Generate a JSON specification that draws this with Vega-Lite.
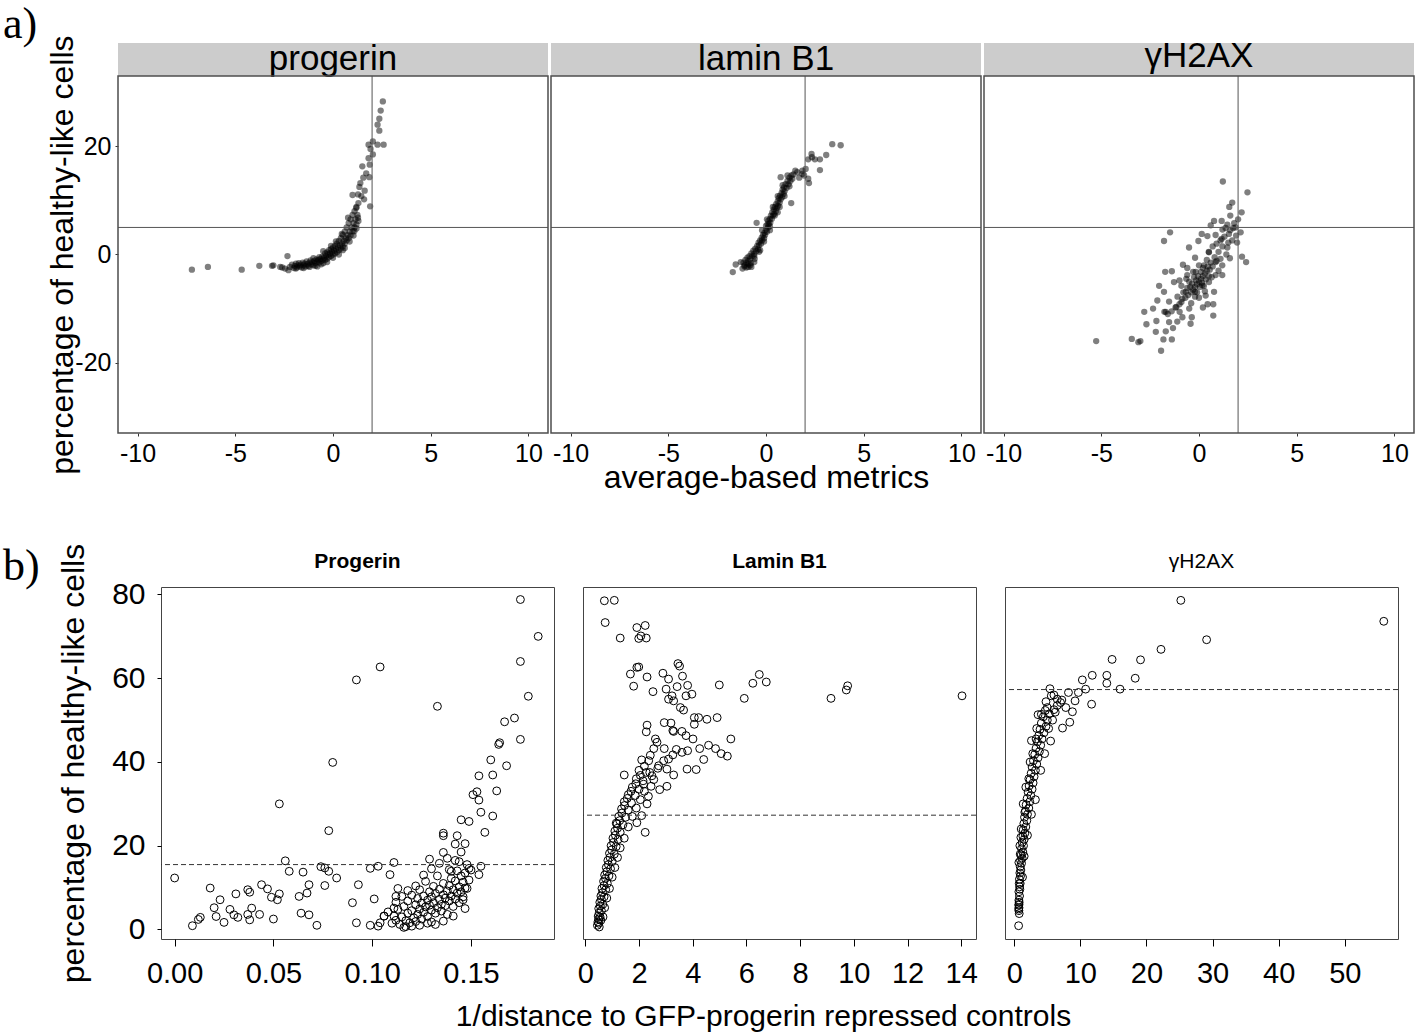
{
  "$schema": "https://vega.github.io/schema/vega-lite/v6.json",
  "background": "white",
  "padding": {"left": 3, "top": 2, "right": 0, "bottom": 0},
  "config": {
    "font": "Liberation Sans",
    "view": {"stroke": null},
    "axis": {"grid": false, "domain": false, "labelColor": "black", "titleColor": "black", "titleFontWeight": "normal", "labelFont": "Liberation Sans", "titleFont": "Liberation Sans", "labelFlush": false, "labelOverlap": false, "labelExpr": "replace(datum.label, '−', '-')"},
    "title": {"font": "Liberation Sans", "color": "black"}
  },
  "datasets": {
    "a1": [{"x":-7.22,"y":-2.8},{"x":-6.4,"y":-2.3},{"x":-4.67,"y":-2.8},{"x":-3.77,"y":-2.1},{"x":-3.12,"y":-2.1},{"x":-3.05,"y":-2.0},{"x":-2.7,"y":-2.3},{"x":-2.45,"y":-2.6},{"x":-2.33,"y":-0.3},{"x":-2.28,"y":-2.9},{"x":-2.6,"y":-2.4},{"x":-2.2,"y":-2.3},{"x":-2.1,"y":-1.9},{"x":-2.0,"y":-2.5},{"x":-1.95,"y":-2.1},{"x":-1.9,"y":-1.7},{"x":-1.85,"y":-2.4},{"x":-1.8,"y":-2.0},{"x":-1.75,"y":-1.6},{"x":-1.7,"y":-2.2},{"x":-1.65,"y":-1.9},{"x":-1.6,"y":-2.4},{"x":-1.55,"y":-1.5},{"x":-1.5,"y":-2.0},{"x":-1.45,"y":-1.7},{"x":-1.4,"y":-2.2},{"x":-1.35,"y":-1.3},{"x":-1.3,"y":-1.8},{"x":-1.25,"y":-2.1},{"x":-1.2,"y":-1.5},{"x":-1.15,"y":-1.1},{"x":-1.1,"y":-1.8},{"x":-1.05,"y":-1.4},{"x":-1.0,"y":-2.0},{"x":-0.95,"y":-1.2},{"x":-0.9,"y":-1.6},{"x":-0.85,"y":-0.9},{"x":-0.8,"y":-1.3},{"x":-0.8,"y":-2.2},{"x":-0.75,"y":-1.0},{"x":-0.7,"y":-0.5},{"x":-0.7,"y":-1.5},{"x":-0.65,"y":-0.8},{"x":-0.6,"y":-1.2},{"x":-0.55,"y":-0.4},{"x":-0.5,"y":-0.9},{"x":-0.5,"y":-1.6},{"x":-0.45,"y":-0.6},{"x":-0.4,"y":0.2},{"x":-0.4,"y":-1.0},{"x":-0.35,"y":-0.3},{"x":-0.3,"y":-0.8},{"x":-0.3,"y":0.4},{"x":-0.25,"y":0.0},{"x":-0.2,"y":-0.5},{"x":-0.2,"y":0.8},{"x":-0.15,"y":0.2},{"x":-0.1,"y":-0.3},{"x":-0.1,"y":1.0},{"x":-0.05,"y":0.5},{"x":0.0,"y":0.0},{"x":0.0,"y":1.3},{"x":0.05,"y":0.7},{"x":0.1,"y":0.2},{"x":0.1,"y":1.6},{"x":0.15,"y":1.0},{"x":0.2,"y":0.4},{"x":0.2,"y":2.0},{"x":0.25,"y":1.3},{"x":0.3,"y":0.8},{"x":0.3,"y":2.5},{"x":0.35,"y":1.7},{"x":0.4,"y":1.1},{"x":0.4,"y":3.0},{"x":0.45,"y":2.0},{"x":0.5,"y":1.5},{"x":0.5,"y":3.6},{"x":0.55,"y":2.5},{"x":0.6,"y":2.0},{"x":0.6,"y":4.2},{"x":0.65,"y":3.0},{"x":0.7,"y":2.6},{"x":0.7,"y":5.0},{"x":0.75,"y":3.6},{"x":0.8,"y":3.0},{"x":0.8,"y":5.8},{"x":0.85,"y":4.2},{"x":0.9,"y":3.5},{"x":0.9,"y":6.5},{"x":0.95,"y":5.0},{"x":1.0,"y":4.3},{"x":1.0,"y":7.3},{"x":1.05,"y":5.8},{"x":1.1,"y":5.0},{"x":1.1,"y":8.0},{"x":1.15,"y":6.5},{"x":1.2,"y":5.5},{"x":1.2,"y":8.8},{"x":1.25,"y":7.3},{"x":1.3,"y":9.5},{"x":1.3,"y":6.2},{"x":0.77,"y":6.8},{"x":1.28,"y":6.8},{"x":1.19,"y":8.6},{"x":1.09,"y":4.3},{"x":1.0,"y":11.0},{"x":1.28,"y":11.1},{"x":1.59,"y":10.2},{"x":1.9,"y":8.9},{"x":1.4,"y":13.2},{"x":1.55,"y":14.2},{"x":1.5,"y":16.3},{"x":1.82,"y":17.8},{"x":1.88,"y":16.6},{"x":1.86,"y":14.3},{"x":1.62,"y":11.8},{"x":2.04,"y":18.5},{"x":1.82,"y":20.3},{"x":2.04,"y":20.9},{"x":2.28,"y":20.3},{"x":2.59,"y":20.3},{"x":2.37,"y":22.9},{"x":2.28,"y":24.0},{"x":2.37,"y":25.1},{"x":2.44,"y":26.6},{"x":2.55,"y":28.3},{"x":1.35,"y":12.5},{"x":1.45,"y":10.8},{"x":1.7,"y":15.0},{"x":1.92,"y":19.5},{"x":-1.9,"y":-2.6},{"x":-1.5,"y":-2.5},{"x":-1.2,"y":-2.3},{"x":-0.9,"y":-2.1},{"x":-0.6,"y":-1.8},{"x":-1.0,"y":-0.7},{"x":-0.3,"y":-1.4},{"x":0.0,"y":-0.6},{"x":0.3,"y":0.0},{"x":0.6,"y":1.2},{"x":0.45,"y":3.8},{"x":0.15,"y":2.4},{"x":-0.1,"y":1.6},{"x":-0.5,"y":0.6},{"x":0.85,"y":2.4},{"x":1.05,"y":3.5},{"x":1.2,"y":4.8},{"x":0.5,"y":0.8}],
    "a2": [{"x":-1.7,"y":-3.25},{"x":-1.55,"y":-1.85},{"x":-1.29,"y":-1.4},{"x":-1.1,"y":-2.2},{"x":-1.0,"y":-2.4},{"x":-0.9,"y":-2.3},{"x":-0.8,"y":-2.0},{"x":-0.75,"y":-2.3},{"x":-0.48,"y":5.86},{"x":-1.2,"y":-2.6},{"x":-1.15,"y":-1.5},{"x":-1.1,"y":-2.0},{"x":-1.05,"y":-1.0},{"x":-1.0,"y":-1.6},{"x":-0.95,"y":-0.6},{"x":-0.9,"y":-1.2},{"x":-0.85,"y":-0.3},{"x":-0.8,"y":-0.8},{"x":-0.78,"y":-1.6},{"x":-0.75,"y":0.2},{"x":-0.7,"y":-0.3},{"x":-0.65,"y":0.7},{"x":-0.6,"y":0.1},{"x":-0.58,"y":-0.8},{"x":-0.55,"y":1.1},{"x":-0.5,"y":0.6},{"x":-0.45,"y":1.6},{"x":-0.4,"y":1.0},{"x":-0.38,"y":2.2},{"x":-0.35,"y":1.7},{"x":-0.3,"y":2.6},{"x":-0.25,"y":2.0},{"x":-0.22,"y":3.1},{"x":-0.2,"y":2.6},{"x":-0.15,"y":3.6},{"x":-0.1,"y":3.0},{"x":-0.08,"y":4.0},{"x":-0.05,"y":3.6},{"x":0.0,"y":4.6},{"x":0.0,"y":5.3},{"x":0.05,"y":4.2},{"x":0.08,"y":5.6},{"x":0.1,"y":5.0},{"x":0.12,"y":6.2},{"x":0.15,"y":5.6},{"x":0.2,"y":6.6},{"x":0.22,"y":5.9},{"x":0.25,"y":7.2},{"x":0.3,"y":6.6},{"x":0.32,"y":7.8},{"x":0.35,"y":7.2},{"x":0.4,"y":8.3},{"x":0.42,"y":7.5},{"x":0.45,"y":8.8},{"x":0.5,"y":8.0},{"x":0.52,"y":9.3},{"x":0.55,"y":8.6},{"x":0.6,"y":9.8},{"x":0.62,"y":9.0},{"x":0.65,"y":10.4},{"x":0.7,"y":9.6},{"x":0.72,"y":10.9},{"x":0.75,"y":10.2},{"x":0.8,"y":11.4},{"x":0.82,"y":10.6},{"x":0.85,"y":12.0},{"x":0.9,"y":11.2},{"x":0.92,"y":12.4},{"x":0.95,"y":11.7},{"x":1.0,"y":13.0},{"x":1.05,"y":12.3},{"x":1.1,"y":13.6},{"x":1.15,"y":13.0},{"x":1.2,"y":14.2},{"x":1.25,"y":13.6},{"x":1.3,"y":14.6},{"x":1.35,"y":14.0},{"x":1.4,"y":14.8},{"x":0.75,"y":14.3},{"x":-0.6,"y":-1.4},{"x":-0.3,"y":0.8},{"x":0.2,"y":4.5},{"x":0.6,"y":7.8},{"x":1.29,"y":9.5},{"x":2.16,"y":17.6},{"x":2.33,"y":18.6},{"x":2.5,"y":17.6},{"x":2.76,"y":17.6},{"x":3.08,"y":18.4},{"x":3.39,"y":20.4},{"x":3.82,"y":20.2},{"x":2.76,"y":15.6},{"x":2.16,"y":14.0},{"x":1.86,"y":14.9},{"x":2.03,"y":15.8},{"x":1.86,"y":15.5},{"x":1.6,"y":15.2},{"x":2.35,"y":18.0},{"x":1.95,"y":14.6},{"x":2.2,"y":13.2},{"x":1.5,"y":15.5},{"x":1.7,"y":14.2},{"x":-0.9,"y":-1.8},{"x":-0.6,"y":-0.3},{"x":-0.35,"y":0.5},{"x":-0.1,"y":2.4},{"x":0.2,"y":5.2},{"x":0.45,"y":7.2},{"x":0.7,"y":8.8},{"x":0.95,"y":10.8},{"x":1.2,"y":12.6},{"x":-0.2,"y":4.5},{"x":0.05,"y":6.5},{"x":0.35,"y":8.8},{"x":0.6,"y":10.8},{"x":0.85,"y":12.8},{"x":1.1,"y":14.6}],
    "a3": [{"x":-5.26,"y":-16.0},{"x":-3.44,"y":-15.6},{"x":-3.1,"y":-16.2},{"x":-3.0,"y":-16.0},{"x":-1.94,"y":-17.8},{"x":1.22,"y":13.5},{"x":2.48,"y":11.5},{"x":1.7,"y":9.6},{"x":1.55,"y":8.8},{"x":2.18,"y":7.8},{"x":1.87,"y":5.0},{"x":2.13,"y":4.1},{"x":2.2,"y":-0.4},{"x":2.41,"y":-1.4},{"x":-1.48,"y":4.1},{"x":-1.79,"y":2.5},{"x":0.77,"y":6.2},{"x":1.16,"y":6.2},{"x":-2.8,"y":-10.6},{"x":-2.35,"y":-10.0},{"x":-2.69,"y":-12.9},{"x":-2.18,"y":-12.3},{"x":-1.77,"y":-10.6},{"x":0.73,"y":-11.3},{"x":0.73,"y":-9.2},{"x":0.44,"y":-9.2},{"x":-2.21,"y":-14.3},{"x":-1.82,"y":-15.7},{"x":-1.7,"y":-14.2},{"x":-1.33,"y":-13.6},{"x":-1.39,"y":-15.7},{"x":-1.53,"y":-12.5},{"x":-1.11,"y":-12.4},{"x":-0.99,"y":-10.6},{"x":-0.43,"y":-12.8},{"x":-0.37,"y":-11.6},{"x":-0.85,"y":-11.6},{"x":-2.04,"y":-5.8},{"x":-1.73,"y":-3.2},{"x":-1.39,"y":-3.1},{"x":-1.28,"y":-5.1},{"x":-1.79,"y":-6.9},{"x":-1.53,"y":-8.7},{"x":-2.13,"y":-8.5},{"x":-1.7,"y":-10.6},{"x":-1.16,"y":-9.7},{"x":-0.82,"y":-1.9},{"x":-0.51,"y":1.3},{"x":-0.03,"y":2.5},{"x":0.14,"y":3.8},{"x":0.43,"y":3.4},{"x":0.6,"y":5.4},{"x":0.85,"y":3.6},{"x":1.16,"y":2.9},{"x":1.36,"y":4.9},{"x":1.53,"y":3.8},{"x":1.7,"y":2.6},{"x":1.45,"y":1.3},{"x":1.58,"y":-0.7},{"x":0.85,"y":-1.4},{"x":1.19,"y":-2.0},{"x":0.51,"y":0.4},{"x":0.26,"y":-2.0},{"x":-0.17,"y":-3.2},{"x":-0.6,"y":-3.8},{"x":0.17,"y":-5.7},{"x":0.51,"y":-5.1},{"x":0.85,"y":-3.8},{"x":-0.2,"y":-6.9},{"x":-0.68,"y":-6.9},{"x":-0.85,"y":-8.2},{"x":0.34,"y":-7.6},{"x":0.77,"y":-6.9},{"x":1.19,"y":-3.8},{"x":0.0,"y":-5.0},{"x":0.1,"y":-4.5},{"x":-0.1,"y":-5.5},{"x":0.2,"y":-4.0},{"x":-0.2,"y":-6.0},{"x":0.3,"y":-3.5},{"x":-0.3,"y":-6.5},{"x":0.05,"y":-6.0},{"x":-0.05,"y":-4.0},{"x":0.15,"y":-5.2},{"x":-0.15,"y":-4.8},{"x":0.25,"y":-5.8},{"x":-0.25,"y":-4.2},{"x":0.35,"y":-4.6},{"x":-0.35,"y":-5.4},{"x":0.4,"y":-3.0},{"x":-0.4,"y":-7.0},{"x":0.45,"y":-2.2},{"x":-0.45,"y":-6.0},{"x":0.5,"y":-4.0},{"x":-0.5,"y":-5.0},{"x":0.55,"y":-2.8},{"x":-0.55,"y":-7.5},{"x":0.6,"y":-1.5},{"x":-0.6,"y":-6.2},{"x":0.2,"y":-2.5},{"x":-0.2,"y":-7.8},{"x":0.1,"y":-3.2},{"x":-0.1,"y":-7.0},{"x":0.3,"y":-6.8},{"x":-0.3,"y":-3.2},{"x":0.7,"y":-2.2},{"x":-0.7,"y":-8.0},{"x":0.8,"y":-0.5},{"x":-0.8,"y":-7.0},{"x":0.65,"y":-4.2},{"x":-0.65,"y":-4.5},{"x":0.9,"y":-1.2},{"x":-0.9,"y":-8.8},{"x":1.0,"y":0.5},{"x":-1.0,"y":-9.2},{"x":1.1,"y":-0.8},{"x":-1.1,"y":-7.8},{"x":1.2,"y":1.5},{"x":-1.2,"y":-9.8},{"x":0.9,"y":2.0},{"x":-0.9,"y":-5.8},{"x":0.4,"y":-1.0},{"x":-0.4,"y":-9.0},{"x":0.0,"y":-2.0},{"x":0.0,"y":-8.0},{"x":0.5,"y":0.5},{"x":-0.5,"y":-10.0},{"x":1.3,"y":3.3},{"x":1.0,"y":-3.0},{"x":-1.4,"y":-10.5},{"x":1.4,"y":0.0},{"x":1.5,"y":2.2},{"x":1.6,"y":4.5},{"x":1.1,"y":2.6},{"x":-1.6,"y":-11.0},{"x":-0.2,"y":-0.6},{"x":0.2,"y":-9.8},{"x":-1.0,"y":-4.8},{"x":1.8,"y":5.8},{"x":1.6,"y":7.2},{"x":0.7,"y":1.5},{"x":-0.6,"y":-2.5},{"x":1.45,"y":5.5},{"x":1.9,"y":3.5},{"x":2.0,"y":6.5},{"x":1.75,"y":4.9},{"x":1.95,"y":2.2},{"x":1.2,"y":4.6}],
    "b1": [{"x":0.0,"y":12.3},{"x":0.009,"y":0.9},{"x":0.012,"y":2.4},{"x":0.013,"y":2.9},{"x":0.018,"y":9.9},{"x":0.02,"y":5.2},{"x":0.021,"y":3.1},{"x":0.023,"y":7.1},{"x":0.025,"y":1.7},{"x":0.028,"y":4.8},{"x":0.03,"y":3.5},{"x":0.031,"y":8.5},{"x":0.032,"y":2.9},{"x":0.037,"y":9.5},{"x":0.038,"y":8.9},{"x":0.039,"y":5.1},{"x":0.038,"y":2.3},{"x":0.037,"y":3.6},{"x":0.043,"y":3.6},{"x":0.044,"y":10.7},{"x":0.047,"y":9.7},{"x":0.049,"y":7.7},{"x":0.05,"y":2.5},{"x":0.053,"y":30.0},{"x":0.053,"y":8.5},{"x":0.052,"y":7.1},{"x":0.056,"y":16.4},{"x":0.058,"y":13.9},{"x":0.063,"y":7.9},{"x":0.065,"y":13.7},{"x":0.064,"y":3.9},{"x":0.067,"y":8.7},{"x":0.068,"y":10.7},{"x":0.068,"y":3.5},{"x":0.072,"y":1.0},{"x":0.074,"y":15.0},{"x":0.076,"y":14.7},{"x":0.076,"y":10.5},{"x":0.078,"y":13.9},{"x":0.078,"y":23.6},{"x":0.08,"y":39.9},{"x":0.082,"y":12.3},{"x":0.09,"y":6.4},{"x":0.092,"y":1.6},{"x":0.092,"y":59.6},{"x":0.093,"y":10.7},{"x":0.099,"y":14.6},{"x":0.099,"y":1.0},{"x":0.101,"y":7.3},{"x":0.103,"y":0.8},{"x":0.103,"y":15.1},{"x":0.104,"y":62.7},{"x":0.106,"y":3.2},{"x":0.109,"y":13.1},{"x":0.111,"y":16.0},{"x":0.112,"y":7.9},{"x":0.113,"y":9.8},{"x":0.111,"y":5.1},{"x":0.133,"y":53.3},{"x":0.136,"y":23.0},{"x":0.136,"y":22.4},{"x":0.136,"y":18.4},{"x":0.14,"y":13.9},{"x":0.142,"y":20.4},{"x":0.143,"y":22.4},{"x":0.145,"y":26.2},{"x":0.144,"y":16.2},{"x":0.147,"y":20.5},{"x":0.149,"y":25.8},{"x":0.146,"y":7.1},{"x":0.147,"y":9.9},{"x":0.149,"y":14.6},{"x":0.151,"y":32.2},{"x":0.153,"y":32.9},{"x":0.154,"y":36.7},{"x":0.154,"y":30.9},{"x":0.155,"y":28.0},{"x":0.155,"y":15.1},{"x":0.154,"y":13.1},{"x":0.157,"y":23.2},{"x":0.16,"y":40.5},{"x":0.161,"y":36.9},{"x":0.163,"y":33.1},{"x":0.161,"y":27.1},{"x":0.164,"y":44.2},{"x":0.1645,"y":44.6},{"x":0.167,"y":49.6},{"x":0.168,"y":39.1},{"x":0.172,"y":50.5},{"x":0.175,"y":45.4},{"x":0.175,"y":64.0},{"x":0.175,"y":78.8},{"x":0.179,"y":55.7},{"x":0.184,"y":70.0},{"x":0.11,"y":1.5},{"x":0.111,"y":3.2},{"x":0.112,"y":2.2},{"x":0.113,"y":4.8},{"x":0.114,"y":1.2},{"x":0.115,"y":3.0},{"x":0.116,"y":5.5},{"x":0.117,"y":2.1},{"x":0.118,"y":6.8},{"x":0.118,"y":3.9},{"x":0.119,"y":1.6},{"x":0.12,"y":4.5},{"x":0.12,"y":8.2},{"x":0.121,"y":2.8},{"x":0.122,"y":5.9},{"x":0.122,"y":1.9},{"x":0.123,"y":7.4},{"x":0.123,"y":3.6},{"x":0.124,"y":4.9},{"x":0.124,"y":9.5},{"x":0.125,"y":2.5},{"x":0.125,"y":6.3},{"x":0.126,"y":8.0},{"x":0.126,"y":4.1},{"x":0.127,"y":5.4},{"x":0.127,"y":11.5},{"x":0.128,"y":3.1},{"x":0.128,"y":7.0},{"x":0.129,"y":9.0},{"x":0.129,"y":5.8},{"x":0.13,"y":1.8},{"x":0.13,"y":4.6},{"x":0.13,"y":7.8},{"x":0.131,"y":10.3},{"x":0.131,"y":6.4},{"x":0.132,"y":3.9},{"x":0.132,"y":8.6},{"x":0.133,"y":5.2},{"x":0.133,"y":12.8},{"x":0.134,"y":7.2},{"x":0.134,"y":9.6},{"x":0.135,"y":4.4},{"x":0.135,"y":6.0},{"x":0.136,"y":8.3},{"x":0.136,"y":11.0},{"x":0.137,"y":5.7},{"x":0.137,"y":7.5},{"x":0.138,"y":9.2},{"x":0.138,"y":3.6},{"x":0.139,"y":6.8},{"x":0.139,"y":10.5},{"x":0.14,"y":8.0},{"x":0.14,"y":12.2},{"x":0.141,"y":5.5},{"x":0.141,"y":9.5},{"x":0.142,"y":7.3},{"x":0.142,"y":11.6},{"x":0.143,"y":8.7},{"x":0.143,"y":14.0},{"x":0.144,"y":6.4},{"x":0.144,"y":10.2},{"x":0.145,"y":9.0},{"x":0.145,"y":12.8},{"x":0.146,"y":7.8},{"x":0.146,"y":11.3},{"x":0.147,"y":13.5},{"x":0.148,"y":9.8},{"x":0.148,"y":15.5},{"x":0.149,"y":11.8},{"x":0.15,"y":14.2},{"x":0.147,"y":5.0},{"x":0.141,"y":3.2},{"x":0.136,"y":2.0},{"x":0.132,"y":1.2},{"x":0.128,"y":1.5},{"x":0.124,"y":1.0},{"x":0.12,"y":0.8},{"x":0.117,"y":0.7},{"x":0.126,"y":13.0},{"x":0.13,"y":14.5},{"x":0.134,"y":15.8},{"x":0.138,"y":17.0},{"x":0.129,"y":16.8},{"x":0.142,"y":16.5},{"x":0.145,"y":18.5},{"x":0.139,"y":14.3},{"x":0.122,"y":10.4},{"x":0.118,"y":9.3},{"x":0.115,"y":7.9},{"x":0.112,"y":6.5},{"x":0.108,"y":4.2},{"x":0.106,"y":3.2},{"x":0.104,"y":1.6},{"x":0.116,"y":0.5}],
    "b2": [{"x":0.71,"y":78.5},{"x":1.08,"y":78.6},{"x":0.74,"y":73.3},{"x":1.3,"y":69.6},{"x":1.92,"y":72.1},{"x":2.23,"y":72.6},{"x":1.99,"y":69.5},{"x":2.27,"y":69.6},{"x":2.07,"y":70.1},{"x":1.99,"y":62.7},{"x":1.92,"y":62.6},{"x":1.68,"y":61.0},{"x":1.8,"y":58.1},{"x":2.3,"y":60.3},{"x":2.52,"y":56.8},{"x":2.89,"y":61.2},{"x":3.1,"y":59.8},{"x":3.45,"y":63.5},{"x":3.51,"y":62.9},{"x":3.62,"y":60.5},{"x":3.81,"y":58.3},{"x":3.97,"y":56.2},{"x":3.75,"y":55.8},{"x":3.42,"y":58.0},{"x":3.23,"y":55.8},{"x":3.1,"y":55.0},{"x":3.29,"y":54.6},{"x":3.01,"y":57.4},{"x":3.54,"y":53.0},{"x":3.66,"y":52.4},{"x":4.99,"y":58.4},{"x":5.92,"y":55.2},{"x":6.24,"y":58.8},{"x":6.48,"y":60.9},{"x":6.74,"y":59.1},{"x":9.15,"y":55.2},{"x":9.72,"y":57.2},{"x":9.77,"y":58.2},{"x":14.03,"y":55.8},{"x":2.3,"y":48.8},{"x":2.27,"y":47.2},{"x":2.94,"y":49.4},{"x":3.19,"y":49.3},{"x":3.26,"y":47.5},{"x":2.61,"y":45.5},{"x":2.67,"y":44.7},{"x":2.94,"y":43.2},{"x":3.29,"y":47.3},{"x":3.6,"y":47.3},{"x":3.75,"y":46.3},{"x":4.06,"y":50.6},{"x":4.22,"y":50.6},{"x":4.53,"y":50.2},{"x":4.91,"y":50.6},{"x":4.06,"y":49.0},{"x":4.01,"y":45.5},{"x":5.42,"y":45.5},{"x":4.26,"y":43.2},{"x":4.59,"y":44.0},{"x":4.85,"y":43.2},{"x":5.06,"y":42.0},{"x":5.29,"y":41.4},{"x":4.41,"y":40.6},{"x":3.81,"y":42.7},{"x":3.6,"y":42.3},{"x":3.39,"y":43.0},{"x":3.26,"y":41.7},{"x":3.1,"y":40.7},{"x":2.92,"y":40.3},{"x":2.55,"y":43.2},{"x":2.42,"y":41.6},{"x":2.36,"y":40.3},{"x":2.73,"y":39.1},{"x":3.04,"y":38.3},{"x":3.29,"y":36.9},{"x":3.04,"y":34.2},{"x":2.77,"y":33.4},{"x":3.79,"y":38.3},{"x":4.13,"y":38.2},{"x":2.48,"y":36.7},{"x":2.27,"y":37.5},{"x":1.45,"y":36.9},{"x":2.17,"y":34.7},{"x":0.45,"y":1.0},{"x":0.47,"y":1.8},{"x":0.5,"y":2.5},{"x":0.48,"y":3.2},{"x":0.52,"y":4.0},{"x":0.55,"y":3.0},{"x":0.5,"y":5.0},{"x":0.56,"y":5.6},{"x":0.6,"y":4.5},{"x":0.54,"y":6.5},{"x":0.6,"y":7.2},{"x":0.65,"y":6.0},{"x":0.58,"y":8.0},{"x":0.64,"y":8.8},{"x":0.7,"y":7.8},{"x":0.62,"y":9.8},{"x":0.7,"y":10.5},{"x":0.76,"y":9.5},{"x":0.68,"y":11.5},{"x":0.75,"y":12.2},{"x":0.82,"y":11.0},{"x":0.72,"y":13.0},{"x":0.8,"y":13.8},{"x":0.88,"y":12.8},{"x":0.78,"y":14.8},{"x":0.86,"y":15.5},{"x":0.94,"y":14.5},{"x":0.84,"y":16.5},{"x":0.92,"y":17.2},{"x":1.0,"y":16.2},{"x":0.9,"y":18.2},{"x":0.98,"y":19.0},{"x":1.08,"y":18.0},{"x":0.96,"y":20.0},{"x":1.05,"y":20.8},{"x":1.15,"y":19.8},{"x":1.03,"y":21.8},{"x":1.12,"y":22.5},{"x":1.22,"y":21.5},{"x":1.1,"y":23.5},{"x":1.2,"y":24.2},{"x":1.3,"y":23.2},{"x":1.18,"y":25.2},{"x":1.28,"y":26.0},{"x":1.4,"y":25.0},{"x":1.25,"y":27.0},{"x":1.36,"y":27.8},{"x":1.5,"y":26.8},{"x":1.35,"y":28.8},{"x":1.46,"y":29.6},{"x":1.6,"y":28.5},{"x":1.45,"y":30.5},{"x":1.56,"y":31.3},{"x":1.72,"y":30.2},{"x":1.6,"y":32.2},{"x":1.7,"y":33.0},{"x":1.86,"y":32.0},{"x":1.75,"y":34.0},{"x":1.88,"y":34.8},{"x":2.0,"y":33.5},{"x":1.9,"y":36.0},{"x":2.05,"y":36.8},{"x":2.15,"y":35.5},{"x":2.0,"y":38.0},{"x":2.2,"y":39.0},{"x":2.1,"y":40.5},{"x":0.66,"y":3.0},{"x":0.72,"y":5.2},{"x":0.8,"y":7.5},{"x":0.9,"y":9.8},{"x":1.0,"y":12.5},{"x":1.1,"y":14.8},{"x":1.2,"y":17.2},{"x":1.3,"y":19.5},{"x":1.45,"y":21.8},{"x":1.6,"y":24.5},{"x":1.75,"y":27.0},{"x":1.9,"y":29.0},{"x":2.05,"y":31.0},{"x":2.2,"y":33.0},{"x":2.3,"y":30.0},{"x":2.1,"y":27.2},{"x":1.92,"y":25.5},{"x":1.15,"y":25.4},{"x":2.23,"y":23.2},{"x":0.52,"y":0.6},{"x":0.5,"y":1.5},{"x":0.58,"y":2.2},{"x":2.4,"y":37.5},{"x":2.55,"y":35.8},{"x":2.7,"y":38.5},{"x":2.45,"y":34.2},{"x":2.35,"y":31.8}],
    "b3": [{"x":25.2,"y":78.6},{"x":55.9,"y":73.6},{"x":29.1,"y":69.2},{"x":22.2,"y":66.9},{"x":14.8,"y":64.5},{"x":19.1,"y":64.4},{"x":10.3,"y":59.6},{"x":11.8,"y":60.7},{"x":14.0,"y":60.7},{"x":14.0,"y":58.8},{"x":18.3,"y":60.0},{"x":16.0,"y":57.4},{"x":10.8,"y":57.4},{"x":9.7,"y":56.6},{"x":11.7,"y":53.8},{"x":5.4,"y":57.5},{"x":8.2,"y":56.6},{"x":9.2,"y":54.6},{"x":8.8,"y":52.0},{"x":8.4,"y":49.5},{"x":7.3,"y":48.1},{"x":5.6,"y":55.8},{"x":7.0,"y":54.2},{"x":4.8,"y":54.4},{"x":3.6,"y":51.3},{"x":4.1,"y":51.4},{"x":6.2,"y":51.9},{"x":2.6,"y":45.1},{"x":6.5,"y":55.0},{"x":7.8,"y":53.0},{"x":6.0,"y":56.0},{"x":5.0,"y":53.0},{"x":0.66,"y":0.9},{"x":0.7,"y":4.5},{"x":0.72,"y":5.2},{"x":0.68,"y":5.8},{"x":0.74,"y":6.5},{"x":0.7,"y":7.0},{"x":0.85,"y":9.6},{"x":0.8,"y":10.2},{"x":0.9,"y":11.0},{"x":0.78,"y":12.0},{"x":0.95,"y":12.8},{"x":0.85,"y":13.5},{"x":1.0,"y":14.2},{"x":0.9,"y":15.0},{"x":1.1,"y":15.8},{"x":0.95,"y":16.5},{"x":1.2,"y":17.0},{"x":1.05,"y":17.8},{"x":1.3,"y":18.5},{"x":1.1,"y":19.3},{"x":1.4,"y":20.0},{"x":1.2,"y":20.8},{"x":1.5,"y":21.5},{"x":1.3,"y":22.3},{"x":1.6,"y":23.0},{"x":1.35,"y":23.8},{"x":1.75,"y":24.5},{"x":1.45,"y":25.3},{"x":1.9,"y":26.0},{"x":1.55,"y":26.8},{"x":2.0,"y":27.5},{"x":1.7,"y":28.3},{"x":2.2,"y":29.0},{"x":1.8,"y":29.8},{"x":2.35,"y":30.5},{"x":1.95,"y":31.3},{"x":2.5,"y":32.0},{"x":2.1,"y":32.8},{"x":2.7,"y":33.5},{"x":2.25,"y":34.3},{"x":2.85,"y":35.0},{"x":2.4,"y":35.8},{"x":3.0,"y":36.5},{"x":2.55,"y":37.3},{"x":3.2,"y":38.0},{"x":2.7,"y":38.8},{"x":3.4,"y":39.5},{"x":2.9,"y":40.3},{"x":3.6,"y":41.0},{"x":3.1,"y":41.8},{"x":3.8,"y":42.5},{"x":3.3,"y":43.3},{"x":4.0,"y":44.0},{"x":3.5,"y":44.8},{"x":4.2,"y":45.5},{"x":3.7,"y":46.3},{"x":4.5,"y":47.0},{"x":3.9,"y":47.8},{"x":4.8,"y":48.5},{"x":4.1,"y":49.3},{"x":5.0,"y":50.0},{"x":4.4,"y":50.8},{"x":5.3,"y":51.5},{"x":4.7,"y":52.3},{"x":1.0,"y":22.0},{"x":0.9,"y":18.0},{"x":1.6,"y":28.0},{"x":2.2,"y":36.0},{"x":2.8,"y":42.0},{"x":3.3,"y":45.5},{"x":1.25,"y":12.5},{"x":1.5,"y":17.5},{"x":2.0,"y":22.5},{"x":2.6,"y":27.5},{"x":3.2,"y":31.0},{"x":4.0,"y":38.0},{"x":4.6,"y":42.0},{"x":0.8,"y":8.0},{"x":0.75,"y":3.8},{"x":0.68,"y":4.9},{"x":1.05,"y":24.0},{"x":1.35,"y":30.0},{"x":1.75,"y":34.0},{"x":2.4,"y":40.0},{"x":3.4,"y":48.0},{"x":5.5,"y":45.0},{"x":5.8,"y":50.0},{"x":6.0,"y":52.5},{"x":6.5,"y":53.5},{"x":7.2,"y":54.8},{"x":5.2,"y":48.0},{"x":0.85,"y":20.0},{"x":0.7,"y":9.0},{"x":0.75,"y":11.0},{"x":0.7,"y":16.0},{"x":0.72,"y":6.0}]
  },
  "spacing": 48,
  "vconcat": [
    {
      "title": {"text": "a)", "anchor": "start", "frame": "group", "font": "Liberation Serif", "fontSize": 44, "fontWeight": "normal", "dx": -115, "offset": -11.5},
      "spacing": 3,
      "bounds": "flush",
      "hconcat": [
        {
          "width": 430, "height": 390,
          "layer": [
            {
              "data": {"name": "a1"},
              "mark": {"type": "circle", "size": 40, "color": "black", "opacity": 0.5},
              "encoding": {
                "x": {"field": "x", "type": "quantitative", "scale": {"domain": [-11, 11], "nice": false, "zero": false}, "axis": {"values": [-10, -5, 0, 5, 10], "labelFontSize": 25, "labelPadding": 5, "tickSize": 3, "tickColor": "#333", "title": null}},
                "y": {"field": "y", "type": "quantitative", "scale": {"domain": [-33, 39.1], "nice": false, "zero": false}, "axis": {"values": [-20, 0, 20], "labelFontSize": 25, "labelPadding": 4, "tickSize": 3, "tickColor": "#333", "title": "percentage of healthy-like cells", "titleFontSize": 32, "titleX": -46, "titleY": 211.7, "titleBaseline": "alphabetic", "titleAlign": "center", "titleAngle": 270}}
              }
            },
            {"data": {"values": [{}]}, "mark": {"type": "rect", "color": "#CCCCCC", "strokeWidth": 0}, "encoding": {"x": {"datum": -11, "type": "quantitative"}, "x2": {"datum": 11}, "y": {"datum": 33, "type": "quantitative"}, "y2": {"datum": 39.1}}},
            {"data": {"values": [{}]}, "mark": {"type": "text", "fontSize": 35, "baseline": "alphabetic", "color": "black"}, "encoding": {"x": {"datum": 0, "type": "quantitative"}, "y": {"datum": 34.2, "type": "quantitative"}, "text": {"value": "progerin"}}},
            {"data": {"values": [{}]}, "mark": {"type": "rule", "color": "#555", "strokeWidth": 1}, "encoding": {"x": {"datum": 2, "type": "quantitative"}, "y": {"datum": -33, "type": "quantitative"}, "y2": {"datum": 33}}},
            {"data": {"values": [{}]}, "mark": {"type": "rule", "color": "#555", "strokeWidth": 1}, "encoding": {"y": {"datum": 5, "type": "quantitative"}, "x": {"datum": -11, "type": "quantitative"}, "x2": {"datum": 11}}},
            {"data": {"values": [{}]}, "mark": {"type": "rect", "fillOpacity": 0, "stroke": "#4d4d4d", "strokeWidth": 1.5}, "encoding": {"x": {"datum": -11, "type": "quantitative"}, "x2": {"datum": 11}, "y": {"datum": -33, "type": "quantitative"}, "y2": {"datum": 33}}}
          ]
        },
        {
          "width": 430, "height": 390,
          "layer": [
            {
              "data": {"name": "a2"},
              "mark": {"type": "circle", "size": 40, "color": "black", "opacity": 0.5},
              "encoding": {
                "x": {"field": "x", "type": "quantitative", "scale": {"domain": [-11, 11], "nice": false, "zero": false}, "axis": {"values": [-10, -5, 0, 5, 10], "labelFontSize": 25, "labelPadding": 5, "tickSize": 3, "tickColor": "#333", "title": "average-based metrics", "titleFontSize": 32, "titleBaseline": "alphabetic", "titleY": 54.7}},
                "y": {"field": "y", "type": "quantitative", "scale": {"domain": [-33, 39.1], "nice": false, "zero": false}, "axis": null}
              }
            },
            {"data": {"values": [{}]}, "mark": {"type": "rect", "color": "#CCCCCC", "strokeWidth": 0}, "encoding": {"x": {"datum": -11, "type": "quantitative"}, "x2": {"datum": 11}, "y": {"datum": 33, "type": "quantitative"}, "y2": {"datum": 39.1}}},
            {"data": {"values": [{}]}, "mark": {"type": "text", "fontSize": 35, "baseline": "alphabetic", "color": "black"}, "encoding": {"x": {"datum": 0, "type": "quantitative"}, "y": {"datum": 34.2, "type": "quantitative"}, "text": {"value": "lamin B1"}}},
            {"data": {"values": [{}]}, "mark": {"type": "rule", "color": "#555", "strokeWidth": 1}, "encoding": {"x": {"datum": 2, "type": "quantitative"}, "y": {"datum": -33, "type": "quantitative"}, "y2": {"datum": 33}}},
            {"data": {"values": [{}]}, "mark": {"type": "rule", "color": "#555", "strokeWidth": 1}, "encoding": {"y": {"datum": 5, "type": "quantitative"}, "x": {"datum": -11, "type": "quantitative"}, "x2": {"datum": 11}}},
            {"data": {"values": [{}]}, "mark": {"type": "rect", "fillOpacity": 0, "stroke": "#4d4d4d", "strokeWidth": 1.5}, "encoding": {"x": {"datum": -11, "type": "quantitative"}, "x2": {"datum": 11}, "y": {"datum": -33, "type": "quantitative"}, "y2": {"datum": 33}}}
          ]
        },
        {
          "width": 430, "height": 390,
          "layer": [
            {
              "data": {"name": "a3"},
              "mark": {"type": "circle", "size": 40, "color": "black", "opacity": 0.5},
              "encoding": {
                "x": {"field": "x", "type": "quantitative", "scale": {"domain": [-11, 11], "nice": false, "zero": false}, "axis": {"values": [-10, -5, 0, 5, 10], "labelFontSize": 25, "labelPadding": 5, "tickSize": 3, "tickColor": "#333", "title": null}},
                "y": {"field": "y", "type": "quantitative", "scale": {"domain": [-33, 39.1], "nice": false, "zero": false}, "axis": null}
              }
            },
            {"data": {"values": [{}]}, "mark": {"type": "rect", "color": "#CCCCCC", "strokeWidth": 0}, "encoding": {"x": {"datum": -11, "type": "quantitative"}, "x2": {"datum": 11}, "y": {"datum": 33, "type": "quantitative"}, "y2": {"datum": 39.1}}},
            {"data": {"values": [{}]}, "mark": {"type": "text", "fontSize": 35, "baseline": "alphabetic", "color": "black"}, "encoding": {"x": {"datum": 0, "type": "quantitative"}, "y": {"datum": 34.6, "type": "quantitative"}, "text": {"value": "γH2AX"}}},
            {"data": {"values": [{}]}, "mark": {"type": "rule", "color": "#555", "strokeWidth": 1}, "encoding": {"x": {"datum": 2, "type": "quantitative"}, "y": {"datum": -33, "type": "quantitative"}, "y2": {"datum": 33}}},
            {"data": {"values": [{}]}, "mark": {"type": "rule", "color": "#555", "strokeWidth": 1}, "encoding": {"y": {"datum": 5, "type": "quantitative"}, "x": {"datum": -11, "type": "quantitative"}, "x2": {"datum": 11}}},
            {"data": {"values": [{}]}, "mark": {"type": "rect", "fillOpacity": 0, "stroke": "#4d4d4d", "strokeWidth": 1.5}, "encoding": {"x": {"datum": -11, "type": "quantitative"}, "x2": {"datum": 11}, "y": {"datum": -33, "type": "quantitative"}, "y2": {"datum": 33}}}
          ]
        }
      ]
    },
    {
      "title": {"text": "b)", "anchor": "start", "frame": "group", "font": "Liberation Serif", "fontSize": 44, "fontWeight": "normal", "dx": -115, "offset": -46},
      "spacing": 29,
      "bounds": "flush",
      "hconcat": [
        {
          "width": 14, "height": 352,
          "data": {"values": []},
          "mark": "point"
        },
        {
          "width": 393, "height": 352,
          "view": {"stroke": "#444", "strokeWidth": 1},
          "title": {"text": "Progerin", "fontSize": 21, "fontWeight": "bold", "anchor": "middle", "offset": -29},
          "layer": [
            {
              "data": {"name": "b1"},
              "mark": {"type": "point", "shape": "circle", "filled": false, "size": 62, "color": "black", "strokeWidth": 1, "opacity": 1},
              "encoding": {
                "x": {"field": "x", "type": "quantitative", "scale": {"domain": [-0.0069, 0.192], "nice": false, "zero": false}, "axis": {"values": [0, 0.05, 0.1, 0.15], "format": ".2f", "labelFontSize": 29, "labelPadding": 13, "tickSize": 7, "tickColor": "black", "title": null}},
                "y": {"field": "y", "type": "quantitative", "scale": {"domain": [-2.27, 81.79], "nice": false, "zero": false}, "axis": {"values": [0, 20, 40, 60, 80], "labelFontSize": 30, "labelPadding": 12, "tickSize": 4, "tickColor": "black", "title": "percentage of healthy-like cells", "titleFontSize": 32, "titleX": -78, "titleY": 176, "titleBaseline": "alphabetic", "titleAlign": "center", "titleAngle": 270}}
              }
            },
            {"data": {"values": [{}]}, "mark": {"type": "rule", "color": "#333", "strokeWidth": 1, "strokeDash": [5, 3]}, "encoding": {"y": {"datum": 15.5, "type": "quantitative"}}}
          ]
        },
        {
          "width": 393, "height": 352,
          "view": {"stroke": "#444", "strokeWidth": 1},
          "title": {"text": "Lamin B1", "fontSize": 21, "fontWeight": "bold", "anchor": "middle", "offset": 15},
          "layer": [
            {
              "data": {"name": "b2"},
              "mark": {"type": "point", "shape": "circle", "filled": false, "size": 62, "color": "black", "strokeWidth": 1, "opacity": 1},
              "encoding": {
                "x": {"field": "x", "type": "quantitative", "scale": {"domain": [-0.086, 14.55], "nice": false, "zero": false}, "axis": {"values": [0, 2, 4, 6, 8, 10, 12, 14], "labelFontSize": 29, "labelPadding": 13, "tickSize": 7, "tickColor": "black", "title": "1/distance to GFP-progerin repressed controls", "titleFontSize": 30, "titleX": 180, "titleY": 86, "titleBaseline": "alphabetic", "titleAlign": "center"}},
                "y": {"field": "y", "type": "quantitative", "scale": {"domain": [-2.27, 81.79], "nice": false, "zero": false}, "axis": null}
              }
            },
            {"data": {"values": [{}]}, "mark": {"type": "rule", "color": "#333", "strokeWidth": 1, "strokeDash": [5, 3]}, "encoding": {"y": {"datum": 27.3, "type": "quantitative"}}}
          ]
        },
        {
          "width": 393, "height": 352,
          "view": {"stroke": "#444", "strokeWidth": 1},
          "title": {"text": "γH2AX", "fontSize": 21, "fontWeight": "normal", "anchor": "middle", "offset": 15},
          "layer": [
            {
              "data": {"name": "b3"},
              "mark": {"type": "point", "shape": "circle", "filled": false, "size": 62, "color": "black", "strokeWidth": 1, "opacity": 1},
              "encoding": {
                "x": {"field": "x", "type": "quantitative", "scale": {"domain": [-1.4, 58.05], "nice": false, "zero": false}, "axis": {"values": [0, 10, 20, 30, 40, 50], "labelFontSize": 29, "labelPadding": 13, "tickSize": 7, "tickColor": "black", "title": null}},
                "y": {"field": "y", "type": "quantitative", "scale": {"domain": [-2.27, 81.79], "nice": false, "zero": false}, "axis": null}
              }
            },
            {"data": {"values": [{}]}, "mark": {"type": "rule", "color": "#333", "strokeWidth": 1, "strokeDash": [5, 3]}, "encoding": {"y": {"datum": 57.3, "type": "quantitative"}}}
          ]
        }
      ]
    }
  ]
}
